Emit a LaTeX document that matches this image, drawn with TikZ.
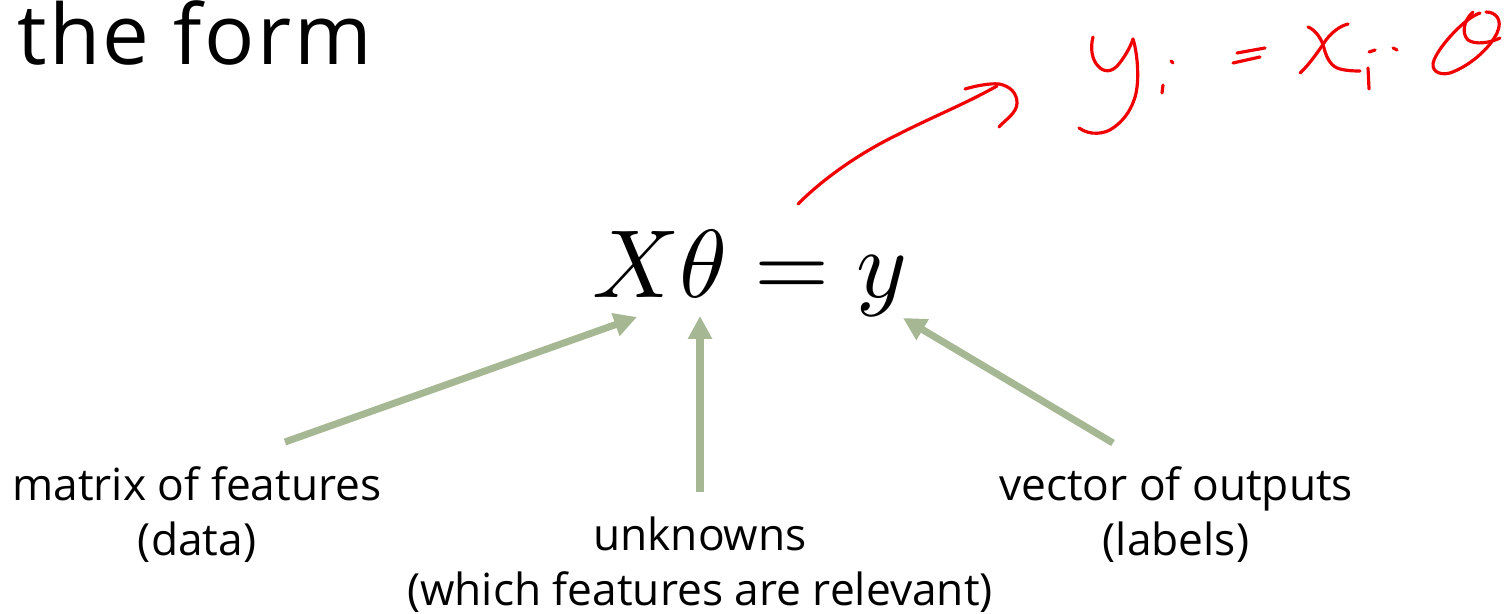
\documentclass[tikz,border=0pt]{standalone}
\usepackage{graphicx}
\usepackage{fontspec}
\setmainfont{Open Sans}
\usetikzlibrary{arrows.meta}
\definecolor{sage}{RGB}{166,184,147}
\definecolor{ink}{RGB}{240,0,0}
\begin{document}
\begin{tikzpicture}[x=0.02cm,y=-0.02cm,
  lbl/.style={inner sep=0pt,anchor=base,font=\fontsize{25.2}{29}\selectfont},
  garrow/.style={draw=sage,line width=4pt,-{Triangle[length=13pt,width=13pt]}},
  pen/.style={draw=ink,line width=1.8pt,line cap=round,line join=round}]
\useasboundingbox (0,0) rectangle (1506,614);
% title fragment
\node[inner sep=0pt,anchor=base west,font=\fontsize{47.5}{54}\selectfont\addfontfeature{LetterSpace=3}] (title) at (17,65) {the form};
% equation
\node[inner sep=0pt,anchor=base west] (eq) at (592,298) {\scalebox{5.5}{$X\theta = y$}};
% labels
\node[lbl] (l1a) at (197,500) {matrix of features};
\node[lbl] (l1b) at (197,555) {(data)};
\node[lbl] (l2a) at (700,550) {unknowns};
\node[lbl] (l2b) at (700,605) {(which features are relevant)};
\node[lbl] (l3a) at (1176,500) {vector of outputs};
\node[lbl] (l3b) at (1176,555) {(labels)};
% arrow endpoints
\coordinate (a1s) at (285,442);
\coordinate (a1e) at (637,317);
\coordinate (a2s) at (700,492);
\coordinate (a2e) at (700,316);
\coordinate (a3s) at (1113,443);
\coordinate (a3e) at (903,318);
\draw[garrow] (a1s) -- (a1e);
\draw[garrow] (a2s) -- (a2e);
\draw[garrow] (a3s) -- (a3e);
% red handwriting: arrow
\coordinate (r0) at (798,204);
\coordinate (r1) at (997,86);
\draw[pen] (r0) .. controls (830,172) and (870,148) .. (897,135) .. controls (930,118) and (965,104) .. (r1);
\draw[pen] (965,89) .. controls (975,86) and (990,83) .. (999,84) .. controls (1010,86) and (1017,93) .. (1017,103) .. controls (1017,113) and (1005,120) .. (999,127);
% y
\draw[pen] (1093,37) .. controls (1090,48) and (1092,60) .. (1098,66) .. controls (1104,73) and (1112,72) .. (1118,65) .. controls (1124,58) and (1130,48) .. (1133,39);
\draw[pen] (1133,39) .. controls (1138,55) and (1140,85) .. (1134,100) .. controls (1130,112) and (1122,122) .. (1113,128) .. controls (1105,134) and (1090,136) .. (1079,128);
% subscript i
\draw[pen] (1171,61) -- (1173,63);
\draw[pen] (1163,85) -- (1162,93);
% =
\draw[pen] (1237,53) -- (1265,48);
\draw[pen] (1233,63) -- (1260,57);
% x
\draw[pen] (1308,27) .. controls (1316,30) and (1322,40) .. (1324,48) .. controls (1327,60) and (1332,67) .. (1340,69) .. controls (1348,71) and (1355,71) .. (1360,71);
\draw[pen] (1348,24) .. controls (1340,26) and (1332,32) .. (1326,40) .. controls (1318,52) and (1308,66) .. (1300,73);
% subscript i and dot
\draw[pen] (1369,52) -- (1375,50);
\draw[pen] (1368,68) -- (1369,89);
\draw[pen] (1393,48) -- (1397,50);
% theta
\draw[pen] (1480,13) .. controls (1465,18) and (1440,45) .. (1434,60) .. controls (1430,70) and (1438,76) .. (1450,73) .. controls (1470,66) and (1490,48) .. (1497,33) .. controls (1503,20) and (1496,12) .. (1486,12);
\draw[pen] (1473,12) .. controls (1464,20) and (1461,33) .. (1468,40) .. controls (1475,45) and (1490,43) .. (1500,38);
\end{tikzpicture}
\end{document}
